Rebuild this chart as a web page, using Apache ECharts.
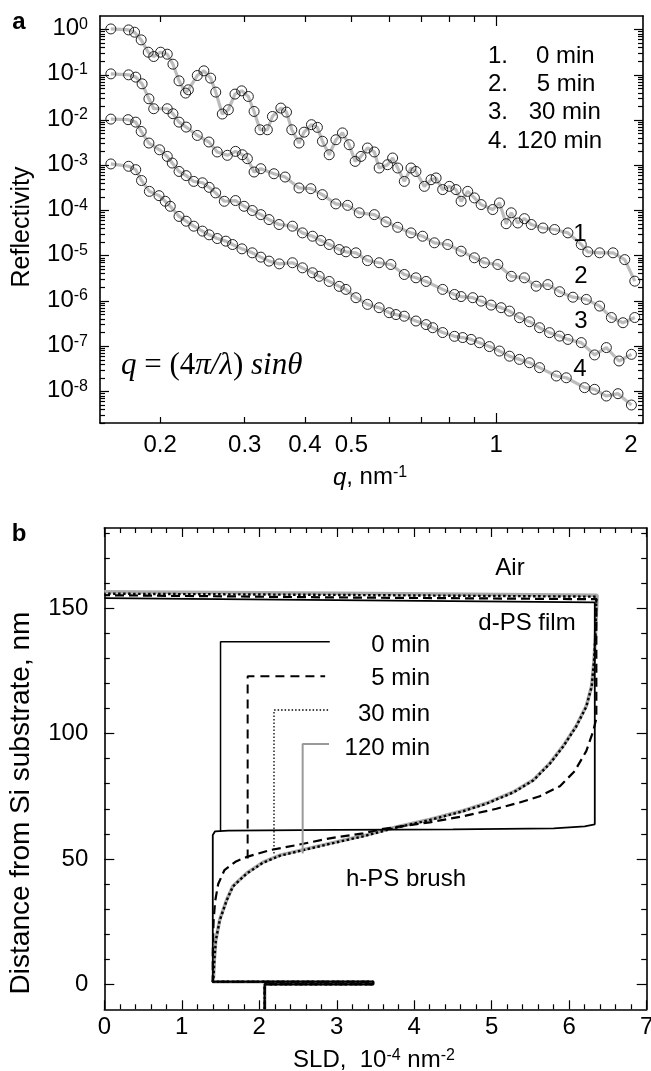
<!DOCTYPE html>
<html><head><meta charset="utf-8">
<script src="https://cdn.jsdelivr.net/npm/echarts@6/dist/echarts.min.js"></script>
<style>html,body{margin:0;padding:0;background:#fff}#c{width:651px;height:1071px}</style>
</head><body><div id="c"></div>
<script>
// ---------- Panel a: reflectivity data ----------
const q1 = [0.158,0.172,0.177,0.1827,0.189,0.194,0.2005,0.207,0.2127,0.219,0.226,0.229,0.239,0.2467,0.2548,0.2611,0.2694,0.2773,0.2863,0.2956,0.3052,0.3137,0.3228,0.3343,0.3425,0.3566,0.3664,0.3758,0.389,0.3986,0.4129,0.4248,0.4352,0.4495,0.4642,0.479,0.4947,0.509,0.5234,0.54,0.558,0.571,0.5945,0.609,0.624,0.644,0.665,0.681,0.709,0.732,0.75,0.774,0.799,0.825,0.8454,0.8726,0.901,0.9306,0.9838,1.016,1.049,1.075,1.109,1.145,1.183,1.251,1.323,1.41,1.503,1.551,1.641,1.75,1.851,1.942];
const R1 = [1.035,0.985,0.877,0.593,0.317,0.254,0.317,0.286,0.172,0.0737,0.0395,0.0467,0.0966,0.1226,0.0845,0.0415,0.0136,0.0169,0.0375,0.0443,0.0332,0.0155,0.0061,0.0061,0.012,0.0184,0.015,0.0061,0.0031,0.0054,0.0079,0.0069,0.0034,0.00171,0.00367,0.0052,0.00285,0.00122,0.00157,0.00241,0.00197,0.00087,0.00103,0.00145,0.00087,0.00044,0.00087,0.00073,0.000342,0.00048,0.000525,0.00029,0.000342,0.00029,0.00016,0.000265,0.00019,0.000135,0.000105,0.000147,5.1e-5,8.9e-5,5.3e-5,6.6e-5,4.9e-5,4.1e-5,3.8e-5,3.2e-5,1.77e-5,1.22e-5,1.16e-5,1.16e-5,8.2e-6,2.74e-6];

const q2 = [0.158,0.172,0.178,0.1835,0.1896,0.194,0.207,0.2127,0.219,0.2266,0.239,0.2527,0.263,0.276,0.287,0.2966,0.3038,0.3137,0.324,0.345,0.364,0.389,0.4117,0.435,0.464,0.491,0.519,0.558,0.59,0.624,0.665,0.703,0.744,0.793,0.8454,0.901,0.945,1.008,1.075,1.145,1.211,1.281,1.355,1.444,1.54,1.641,1.736,1.835,1.942];
const R2 = [0.105,0.1,0.089,0.0633,0.0295,0.0178,0.0178,0.0138,0.009,0.007,0.00457,0.00327,0.00197,0.00166,0.00203,0.00171,0.0014,0.00071,0.00084,0.00065,0.00055,3.15e-4,3.04e-4,2.24e-4,1.4e-4,1.3e-4,8.9e-5,8.1e-5,5.6e-5,4.25e-5,3.2e-5,2.7e-5,1.93e-5,1.77e-5,1.26e-5,9.0e-6,7.0e-6,6.4e-6,3.5e-6,3.25e-6,2.12e-6,2.3e-6,1.6e-6,1.21e-6,1.08e-6,7.7e-7,4.3e-7,3.3e-7,4.3e-7];

const q3 = [0.158,0.1716,0.178,0.1827,0.1896,0.1995,0.207,0.212,0.219,0.2266,0.235,0.245,0.253,0.261,0.272,0.287,0.299,0.311,0.324,0.337,0.3535,0.377,0.3955,0.415,0.432,0.4495,0.4716,0.487,0.511,0.540,0.571,0.604,0.644,0.681,0.715,0.774,0.819,0.8454,0.894,0.9306,0.976,1.024,1.066,1.118,1.173,1.231,1.291,1.355,1.41,1.503,1.602,1.695,1.801,1.911];
const R3 = [1.05e-2,1.02e-2,9.0e-3,5.6e-3,3.1e-3,2.2e-3,1.57e-3,1.12e-3,7.3e-4,5.9e-4,4.4e-4,4.1e-4,3.25e-4,2.45e-4,1.6e-4,1.66e-4,1.24e-4,1.0e-4,8.1e-5,6.3e-5,4.9e-5,4.5e-5,3.2e-5,2.7e-5,2.17e-5,1.77e-5,1.37e-5,1.22e-5,1.16e-5,7.8e-6,7.0e-6,6.4e-6,3.85e-6,3.25e-6,2.7e-6,1.8e-6,1.39e-6,1.25e-6,1.18e-6,9.9e-7,8.1e-7,7.1e-7,5.96e-7,4.26e-7,3.47e-7,2.56e-7,1.99e-7,1.67e-7,1.41e-7,1.2e-7,6.4e-8,9.3e-8,4.7e-8,6.6e-8];

const q4 = [0.158,0.172,0.178,0.183,0.190,0.199,0.205,0.210,0.219,0.2266,0.235,0.245,0.253,0.263,0.274,0.283,0.296,0.311,0.324,0.337,0.354,0.377,0.3955,0.415,0.4285,0.4495,0.4716,0.487,0.511,0.540,0.571,0.599,0.619,0.644,0.681,0.715,0.738,0.774,0.819,0.852,0.887,0.923,0.968,1.016,1.066,1.118,1.173,1.231,1.334,1.399,1.527,1.602,1.695,1.792,1.911];
const R4 = [1.07e-3,9.5e-4,8.0e-4,4.6e-4,2.65e-4,2.13e-4,1.6e-4,1.24e-4,7.4e-5,5.8e-5,4.5e-5,3.5e-5,2.9e-5,2.4e-5,2.1e-5,1.77e-5,1.42e-5,1.16e-5,9.3e-6,7.6e-6,6.6e-6,7.0e-6,5.4e-6,4.2e-6,3.5e-6,2.7e-6,2.1e-6,1.8e-6,1.18e-6,8.4e-7,7.1e-7,5.5e-7,5.0e-7,4.6e-7,3.6e-7,3.0e-7,2.56e-7,2.0e-7,1.65e-7,1.55e-7,1.41e-7,1.19e-7,9.8e-8,7.8e-8,6.0e-8,5.1e-8,4.3e-8,3.35e-8,2.19e-8,2.0e-8,1.21e-8,1.11e-8,7.9e-9,8.9e-9,5.0e-9];

const curveLabels = ['1','2','3','4'];
const legendNums = ['1.','2.','3.','4.'];
const legendTimes = ['0 min','5 min','30 min','120 min'];

// tick / label values, panel a
const qLabelValues = [0.2,0.3,0.4,0.5,1,2];
const qTickValues = [0.2,0.3,0.4,0.5,0.6,0.7,0.8,0.9];
const qLongTickValues = [1];
const rLabelValues = [1e-8,1e-7,1e-6,1e-5,1e-4,1e-3,1e-2,1e-1,1];
const rMinorTickValues = [];
for (let n = -9; n <= -1; n++) for (let k = 2; k <= 9; k++) { const v = k * Math.pow(10, n); if (v >= 2e-9 && v < 2) rMinorTickValues.push(v); }

// ---------- Panel b: SLD profiles ----------
const sld0  = [2.07,2.07,3.47,3.47,1.40,1.40,1.43,1.6,3.0,4.5,5.8,6.2,6.33,6.33,3.0,0];
const dist0 = [-10,0,0,1,1,59.5,61,61.3,61.6,61.8,62.2,63,63.8,152.3,153.2,154.0];
const sld5  = [2.07,2.07,3.47,3.47,1.40,1.40,1.41,1.43,1.47,1.55,1.7,1.84,2.14,2.48,2.91,3.34,3.6,4.2,4.63,5.06,5.36,5.62,5.88,6.07,6.22,6.31,6.35,6.35,3.0,0];
const dist5 = [-10,0,0,1,1,12,25,33,40,45.5,49,50.8,53.5,55.5,58.2,60.2,62,64.6,67,70,72.5,75,79,85,93,101,106,153.6,154.3,155.2];
const sld30  = [2.07,2.07,3.47,3.47,1.40,1.41,1.42,1.44,1.49,1.58,1.66,1.84,2.05,2.27,2.57,2.91,3.34,3.77,4.2,4.63,4.93,5.28,5.54,5.75,5.92,6.09,6.22,6.29,6.32,6.34,6.35,3.0,0];
const dist30 = [-10,0,0,1,1,3,9.6,17.6,25.5,33.5,39,44.2,48.5,51.3,53.5,56,59,62.5,65.5,69,72,76.5,81.4,88,94.7,102.8,110.7,118.7,129,140,154.6,155.3,155.8];
const sld120  = [2.07,2.07,3.47,3.47,1.40,1.41,1.42,1.44,1.49,1.58,1.66,1.84,2.05,2.27,2.57,2.91,3.34,3.77,4.2,4.63,4.93,5.28,5.54,5.75,5.92,6.09,6.22,6.29,6.32,6.34,6.36,3.0,0];
const dist120 = [-10,0,0,1,1,3,9.8,17.8,25.8,33.7,39.2,44.4,48.7,51.5,53.7,56.2,59.2,62.7,65.7,69.2,72.2,76.7,81.6,88.2,95,103,111,119,129,140,155.2,156.0,156.6];
// legend callout lines (L shapes)
const callSld0 = [1.50,1.50,2.91],  callDist0 = [60.8,136.6,136.6];
const callSld5 = [1.85,1.85,2.85],  callDist5 = [50.2,122.9,122.9];
const callSld30 = [2.19,2.19,2.90], callDist30 = [52.2,109.4,109.4];
const callSld120 = [2.56,2.56,2.90], callDist120 = [52.2,95.8,95.8];
const regionLabels = ['Air','d-PS film','h-PS brush'];

const sldLabelValues = [0,1,2,3,4,5,6,7];
const sldMinorTicks = [];
for (let i = 1; i < 35; i++) if (i % 5) sldMinorTicks.push(+(i * 0.2).toFixed(1));
const distLabelValues = [0,50,100,150];
const distMinorTicks = [10,20,30,40,60,70,80,90,110,120,130,140,160,170,180];

// ---------- build chart ----------
const FONT = '"Liberation Sans", Arial, Helvetica, sans-serif';
const SERIF = '"Liberation Serif", "Times New Roman", serif';
const zip = (a, b) => a.map((v, i) => [v, b[i]]);

function axis(type, gridIndex, position, min, max, showLine) {
  return {
    type, gridIndex, position, min, max,
    axisLine: { show: showLine, onZero: false, lineStyle: { color: '#000', width: 1.6 } },
    axisTick: { show: false }, axisLabel: { show: false },
    splitLine: { show: false }, minorTick: { show: false }, minorSplitLine: { show: false },
    splitArea: { show: false }
  };
}
function ticks(ax, vals, len) {
  ax.axisTick = { show: true, inside: true, length: len, customValues: vals, lineStyle: { color: '#000', width: 1.2 } };
  return ax;
}
function labels(ax, vals, formatter, margin, rich) {
  ax.axisLabel = { show: true, customValues: vals, formatter, margin, color: '#000', fontSize: 24, fontFamily: FONT, rich };
  return ax;
}

const supRich = {
  b: { fontSize: 24, fontFamily: FONT, color: '#000', lineHeight: 26, verticalAlign: 'top' },
  s: { fontSize: 16, fontFamily: FONT, color: '#000', lineHeight: 16, verticalAlign: 'top' },
  r: { fontSize: 24, fontFamily: FONT, color: '#000', padding: [0, 20, 0, 0] },
  n: { fontSize: 24, fontFamily: FONT, color: '#000' }
};

const QMIN = 0.15, QMAX = 2.02, RMIN = 2e-9, RMAX = 2;
const xAxes = [
  labels(ticks(axis('log', 0, 'bottom', QMIN, QMAX, true), qTickValues, 6), qLabelValues,
    v => (Math.abs(v - 2) < 1e-9 ? '{r|2}' : '{n|' + String(+v.toPrecision(3)) + '}'), 10, supRich),
  ticks(axis('log', 0, 'bottom', QMIN, QMAX, false), qLongTickValues, 10),
  ticks(axis('log', 0, 'top', QMIN, QMAX, true), qTickValues, 6),
  ticks(axis('log', 0, 'top', QMIN, QMAX, false), qLongTickValues, 10),
  labels(ticks(axis('value', 1, 'bottom', 0, 7, true), sldLabelValues, 9), sldLabelValues, v => String(v), 6),
  ticks(axis('value', 1, 'bottom', 0, 7, false), sldMinorTicks, 5),
  ticks(axis('value', 1, 'top', 0, 7, true), sldLabelValues, 9),
  ticks(axis('value', 1, 'top', 0, 7, false), sldMinorTicks, 5)
];
const yAxes = [
  labels(ticks(axis('log', 0, 'left', RMIN, RMAX, true), rLabelValues, 9), rLabelValues,
    v => '{b|10}{s|' + Math.round(Math.log10(v)) + '}', 12, supRich),
  ticks(axis('log', 0, 'left', RMIN, RMAX, false), rMinorTickValues, 5),
  ticks(axis('log', 0, 'right', RMIN, RMAX, true), rLabelValues, 9),
  ticks(axis('log', 0, 'right', RMIN, RMAX, false), rMinorTickValues, 5),
  labels(ticks(axis('value', 1, 'left', -10, 182, true), distLabelValues, 10), distLabelValues, v => String(v), 16),
  ticks(axis('value', 1, 'left', -10, 182, false), distMinorTicks, 5.5),
  ticks(axis('value', 1, 'right', -10, 182, true), distLabelValues, 10),
  ticks(axis('value', 1, 'right', -10, 182, false), distMinorTicks, 5.5)
];

function reflSeries(q, R) {
  return {
    type: 'line', xAxisIndex: 0, yAxisIndex: 0, data: zip(q, R),
    symbol: 'circle', symbolSize: 10, showSymbol: true, showAllSymbol: true,
    lineStyle: { color: '#bcbcbc', width: 3.2 },
    itemStyle: { color: 'rgba(255,255,255,0)', borderColor: '#222', borderWidth: 1 },
    emphasis: { disabled: true }, silent: true, z: 3
  };
}
function prof(sx, sy, style, z) {
  return {
    type: 'line', xAxisIndex: 4, yAxisIndex: 4, data: zip(sx, sy),
    symbol: 'none', showSymbol: false, lineStyle: style,
    emphasis: { disabled: true }, silent: true, z
  };
}

function txt(text, x, y, opt) {
  opt = opt || {};
  const align = opt.align || 'center';
  return {
    type: 'text', x, y, rotation: opt.rotation || 0, z: 100, silent: true,
    style: {
      text, fill: '#000',
      font: opt.font || ('24px ' + FONT),
      align, verticalAlign: 'middle', textAlign: align, textVerticalAlign: 'middle',
      rich: opt.rich
    }
  };
}

const nameRich = {
  i: { fontSize: 24, fontFamily: FONT, fontStyle: 'italic', color: '#000' },
  n: { fontSize: 24, fontFamily: FONT, color: '#000' },
  s: { fontSize: 16, fontFamily: FONT, color: '#000', verticalAlign: 'top', lineHeight: 16 },
  m: { fontSize: 24, fontFamily: FONT, color: '#000', lineHeight: 26, verticalAlign: 'top' }
};
const formulaRich = {
  i: { fontSize: 31, fontFamily: SERIF, fontStyle: 'italic', color: '#000' },
  n: { fontSize: 31, fontFamily: SERIF, color: '#000' }
};

const legendNumX = 488, legendTimeX = [536, 536.7, 528.7, 516.7], legendY = [56, 84.3, 112.7, 141];
const curveLabelPos = [[580, 234], [581, 276], [581, 321], [580, 369]];
const bLegendY = [645, 678, 714, 748];

const graphics = [
  txt('a', 19, 22, { font: 'bold 24px ' + FONT }),
  txt('b', 19, 534, { font: 'bold 24px ' + FONT }),
  txt('Reflectivity', 22.5, 227, { rotation: Math.PI / 2, font: '25px ' + FONT }),
  txt('Distance from Si substrate, nm', 21.5, 803, { rotation: Math.PI / 2, font: '28px ' + FONT }),
  txt('{i|q}{m|, nm}{s|-1}', 370, 478, { rich: nameRich }),
  txt('{m|SLD,  10}{s|-4}{m| nm}{s|-2}', 374, 1061, { rich: nameRich }),
  txt('{i|q}{n| = (4}{i|π/λ}{n|) }{i|sinθ}', 121, 366, { align: 'left', rich: formulaRich }),
  txt(regionLabels[0], 510, 568),
  txt(regionLabels[1], 527, 623),
  txt(regionLabels[2], 406, 879)
];
for (let i = 0; i < 4; i++) {
  graphics.push(txt(legendNums[i], legendNumX, legendY[i], { align: 'left' }));
  graphics.push(txt(legendTimes[i], legendTimeX[i], legendY[i], { align: 'left' }));
  graphics.push(txt(curveLabels[i], curveLabelPos[i][0], curveLabelPos[i][1]));
  graphics.push(txt(legendTimes[i], 430, bLegendY[i], { align: 'right' }));
}

const chart = echarts.init(document.getElementById('c'), null, { renderer: 'canvas' });
chart.setOption({
  animation: false,
  backgroundColor: '#fff',
  grid: [
    { left: 100, top: 16, width: 543, height: 407, outerBoundsMode: 'none', containLabel: false },
    { left: 104.3, top: 528, width: 542.4, height: 481.3, outerBoundsMode: 'none', containLabel: false }
  ],
  xAxis: xAxes,
  yAxis: yAxes,
  series: [
    reflSeries(q1, R1), reflSeries(q2, R2), reflSeries(q3, R3), reflSeries(q4, R4),
    prof(sld120, dist120, { color: '#aaaaaa', width: 3.5 }, 2),
    prof(sld30, dist30, { color: '#000', width: 2.4, type: [2.5, 2.5] }, 3),
    prof(sld5, dist5, { color: '#000', width: 2.2, type: [9, 5] }, 4),
    prof(sld0, dist0, { color: '#000', width: 1.8 }, 5),
    prof(callSld0, callDist0, { color: '#000', width: 1.5 }, 5),
    prof(callSld5, callDist5, { color: '#000', width: 2, type: [9, 6] }, 5),
    prof(callSld30, callDist30, { color: '#000', width: 1.3, type: [1.5, 2] }, 5),
    prof(callSld120, callDist120, { color: '#999', width: 2 }, 5)
  ],
  graphic: { elements: graphics }
});
</script></body></html>
